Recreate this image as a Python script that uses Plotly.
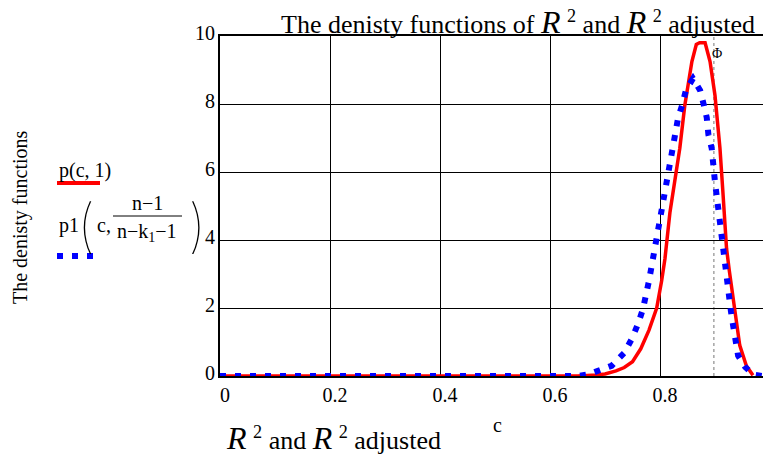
import plotly.graph_objects as go

# ---- data ----
red_x = [0.0, 0.2, 0.4, 0.6, 0.65, 0.685, 0.70, 0.72, 0.735, 0.75, 0.765, 0.78, 0.794, 0.803, 0.809,
         0.818, 0.827, 0.836, 0.845, 0.858, 0.866, 0.872, 0.882, 0.891, 0.90, 0.906, 0.909, 0.914,
         0.918, 0.921, 0.926, 0.931, 0.936, 0.945, 0.957, 0.969]
red_y = [0.0, 0.0, 0.0, 0.0, 0.0, 0.03, 0.06, 0.15, 0.25, 0.42, 0.8, 1.35, 2.0, 2.8, 3.45,
         4.8, 5.8, 6.7, 7.95, 9.25, 9.75, 9.8, 9.8, 9.25, 8.25, 7.3, 6.7, 5.5,
         4.6, 3.75, 3.1, 2.5, 2.0, 0.9, 0.3, 0.02]

blue_x = [0.0, 0.2, 0.4, 0.6, 0.65, 0.67, 0.687, 0.712, 0.735, 0.749, 0.76, 0.769, 0.78, 0.785, 0.791,
          0.80, 0.811, 0.822, 0.833, 0.84, 0.847, 0.86, 0.873, 0.88, 0.885, 0.888, 0.894,
          0.90, 0.908, 0.915, 0.92, 0.924, 0.929, 0.933, 0.936, 0.942, 0.955, 0.97, 0.985]
blue_y = [0.0, 0.0, 0.0, 0.0, 0.0, 0.05, 0.15, 0.3, 0.68, 1.1, 1.53, 1.97, 2.8, 3.25, 3.75,
          4.65, 5.7, 6.75, 7.6, 7.95, 8.4, 8.75, 8.4, 7.95, 7.6, 7.1, 6.7,
          5.7, 4.6, 3.65, 2.8, 2.36, 1.9, 1.48, 1.1, 0.6, 0.26, 0.04, 0.0]

x_ticks = [0, 0.2, 0.4, 0.6, 0.8]
x_tick_labels = ["0", "0.2", "0.4", "0.6", "0.8"]
y_ticks = [0, 2, 4, 6, 8, 10]
y_tick_labels = ["0", "2", "4", "6", "8", "10"]
phi_x = 0.898

FONT = "Liberation Serif, Times New Roman, serif"
THIN = "Inter, Lato, Liberation Serif"
W, H = 763, 461
L, R, T, B = 220, 0, 36, 85
PW, PH = W - L - R, H - T - B


def fx(px):
    return (px - L) / PW


def fy(py):
    return (H - B - py) / PH


fig = go.Figure()
fig.add_trace(go.Scatter(x=red_x, y=red_y, mode="lines",
                         line=dict(color="#ff0000", width=3.5), showlegend=False))
fig.add_trace(go.Scatter(x=blue_x, y=blue_y, mode="lines",
                         line=dict(color="#0000ff", width=6, dash="6px,9px"), showlegend=False))

ann = []


def text(t, px, py, size=20, xanchor="left", yanchor="middle", angle=0, family=FONT, weight=None):
    f = dict(family=family, size=size, color="black")
    if weight is not None:
        f["weight"] = weight
    ann.append(dict(text=t, x=fx(px), y=fy(py), xref="paper", yref="paper",
                    xanchor=xanchor, yanchor=yanchor, showarrow=False, textangle=angle,
                    font=f))


Rb = "<i><span style='font-size:32px'>R</span></i> <sup>2</sup>"
text("The denisty functions of " + Rb + " and " + Rb + " adjusted", 757, 22, size=26, xanchor="right")
text(Rb + " and " + Rb + " adjusted", 224, 438, size=26, xanchor="left")
text("c", 497, 425, size=20, xanchor="center")
text("The denisty functions", 20, 217, size=20, xanchor="center", angle=-90)
text("p(c, 1)", 57, 170, size=20)
text("p1", 57, 225, size=20)
text("(", 86, 225, size=58, xanchor="center", family=THIN, weight=100)
text("c,", 95, 225, size=20)
text("n\u22121", 147, 203, size=20, xanchor="center")
text("n\u2212k<sub>1</sub>\u22121", 147, 233, size=20, xanchor="center")
text(")", 197, 225, size=58, xanchor="center", family=THIN, weight=100)
text("\u03a6", 717, 53, size=14, xanchor="center")

shapes = [
    dict(type="line", xref="paper", yref="paper", x0=fx(113), x1=fx(182), y0=fy(216), y1=fy(216),
         line=dict(color="black", width=1)),
    dict(type="line", xref="paper", yref="paper", x0=fx(57), x1=fx(100), y0=fy(183), y1=fy(183),
         line=dict(color="#ff0000", width=4)),
    dict(type="line", xref="paper", yref="paper", x0=fx(57), x1=fx(94), y0=fy(256), y1=fy(256),
         line=dict(color="#0000ff", width=6, dash="6px,9px")),
    dict(type="line", xref="x", yref="paper", x0=phi_x, x1=phi_x, y0=0, y1=1,
         line=dict(color="#777777", width=1, dash="dot"), layer="below"),
]

fig.update_layout(
    width=W, height=H, margin=dict(l=L, r=R, t=T, b=B),
    paper_bgcolor="white", plot_bgcolor="white",
    font=dict(family=FONT, size=20, color="black"),
    annotations=ann, shapes=shapes, showlegend=False,
    xaxis=dict(range=[0, PW / 550], tickvals=x_ticks, ticktext=x_tick_labels,
               showgrid=True, gridcolor="black", gridwidth=1, zeroline=False,
               showline=True, linecolor="black", linewidth=2, mirror=True,
               ticks="", ticklabelshift=5, tickfont=dict(family=FONT, size=20)),
    yaxis=dict(range=[0, 10], tickvals=y_ticks, ticktext=y_tick_labels,
               showgrid=True, gridcolor="black", gridwidth=1, zeroline=False,
               showline=True, linecolor="black", linewidth=2, mirror=False,
               ticks="", ticklabelshift=-3, ticklabelstandoff=-1,
               tickfont=dict(family=FONT, size=20)),
)

fig.write_html("out.html", config={"displayModeBar": False},
               post_script="document.body.style.margin='0px';")
